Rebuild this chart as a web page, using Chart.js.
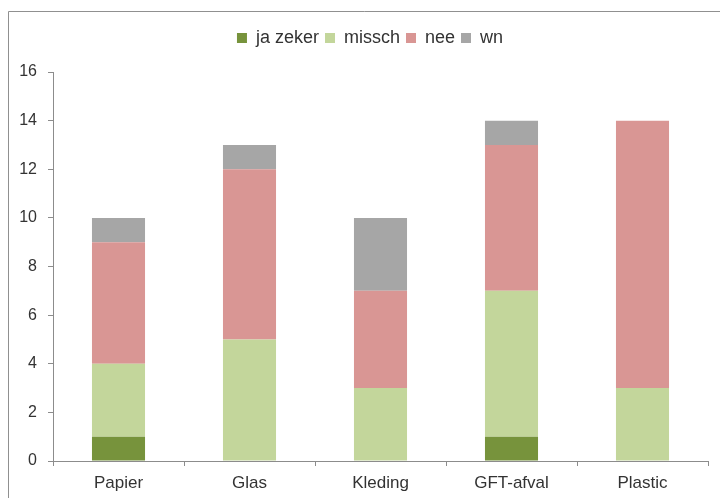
<!DOCTYPE html>
<html>
<head>
<meta charset="utf-8">
<script src="https://cdn.jsdelivr.net/npm/chart.js@4.4.1/dist/chart.umd.min.js"></script>
<style>
html,body{margin:0;padding:0;background:#fff;}
#wrap{position:relative;width:720px;height:498px;}
</style>
</head>
<body>
<div id="wrap"><canvas id="c" width="720" height="498"></canvas></div>
<script>
const categories = ["Papier", "Glas", "Kleding", "GFT-afval", "Plastic"];
const jaZeker = [1, 0, 0, 1, 0];
const missch = [3, 5, 3, 6, 3];
const nee = [5, 7, 4, 6, 11];
const wn = [1, 1, 3, 1, 0];
const yTicks = [0, 2, 4, 6, 8, 10, 12, 14, 16];

const axisColor = '#8c8c8c';
const textColor = '#333333';
const fontFamily = "'Liberation Sans', Arial, sans-serif";

const frame = {
  id: 'frame',
  afterInit(chart) {
    const lg = chart.legend;
    if (lg) {
      const orig = lg.fit;
      lg.fit = function() { orig.call(this); this.height = 49; };
    }
  },
  afterLayout(chart) {
    const lg = chart.legend;
    if (lg) {
      lg.left += 16;
      lg.right += 16;
      if (lg.legendHitBoxes) lg.legendHitBoxes.forEach(h => { h.left += 16; });
    }
  },
  beforeDraw(chart) {
    const ctx = chart.ctx;
    ctx.save();
    ctx.fillStyle = '#fff';
    ctx.fillRect(0, 0, chart.width, chart.height);
    ctx.strokeStyle = '#909090';
    ctx.lineWidth = 1;
    ctx.beginPath();
    ctx.moveTo(8.5, chart.height);
    ctx.lineTo(8.5, 11.5);
    ctx.lineTo(chart.width, 11.5);
    ctx.stroke();
    ctx.restore();
  }
};

new Chart(document.getElementById('c'), {
  type: 'bar',
  data: {
    labels: categories,
    datasets: [
      {label: 'ja zeker', data: jaZeker, backgroundColor: '#77933C'},
      {label: 'missch', data: missch, backgroundColor: '#C3D69B'},
      {label: 'nee', data: nee, backgroundColor: '#D99694'},
      {label: 'wn', data: wn, backgroundColor: '#A6A6A6'}
    ]
  },
  options: {
    responsive: false,
    animation: false,
    layout: {padding: {top: 23, right: 12, left: 0, bottom: 0}},
    datasets: {bar: {categoryPercentage: 0.405, barPercentage: 1.0, borderWidth: 0}},
    plugins: {
      legend: {
        position: 'top',
        labels: {font: {family: fontFamily, size: 18}, color: textColor, boxWidth: 10, boxHeight: 10, padding: 6}
      },
      tooltip: {enabled: false}
    },
    scales: {
      x: {
        stacked: true,
        grid: {display: true, drawOnChartArea: false, drawTicks: true, tickLength: 5, color: axisColor, offset: true},
        border: {display: true, color: axisColor, width: 1},
        ticks: {font: {family: fontFamily, size: 17}, color: textColor, padding: 7},
        afterFit(s) { s.height = 37; }
      },
      y: {
        stacked: true,
        min: 0,
        max: 16,
        afterBuildTicks(s) { s.ticks = yTicks.map(v => ({value: v})); },
        grid: {display: true, drawOnChartArea: false, drawTicks: true, tickLength: 5, color: axisColor},
        border: {display: true, color: axisColor, width: 1},
        ticks: {font: {family: fontFamily, size: 16}, color: textColor, padding: 11},
        afterFit(s) { s.width = 53; }
      }
    }
  },
  plugins: [frame]
});
</script>
</body>
</html>
